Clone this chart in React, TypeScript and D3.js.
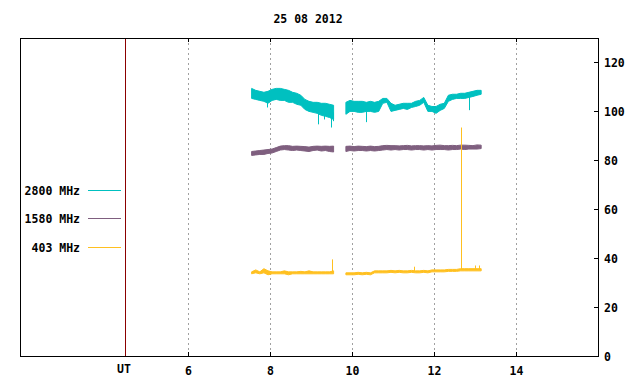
import React, { useRef, useEffect } from 'react';
import * as d3 from 'd3';

// time stamps (UT hours) of the two observing segments
const seg1T = [7.55, 7.65, 7.75, 7.85, 7.95, 8.05, 8.15, 8.25, 8.35, 8.45, 8.55, 8.65, 8.75, 8.85, 8.95, 9.05, 9.15, 9.25, 9.35, 9.45, 9.55];
const seg2T = [9.85, 9.95, 10.05, 10.15, 10.25, 10.35, 10.45, 10.55, 10.65, 10.75, 10.85, 10.95, 11.05, 11.15, 11.25, 11.35, 11.45,
  11.55, 11.65, 11.75, 11.85, 11.95, 12.05, 12.15, 12.25, 12.35, 12.45, 12.55, 12.65, 12.75, 12.85, 12.95, 13.05, 13.15];

// 2800 MHz (upper / lower envelope of the noisy trace)
const f2800Hi1 = [109.4, 108.6, 108.2, 107.8, 108.2, 109, 109.4, 109.4, 109, 108.6, 107.8, 107.4, 106.6, 104.9, 104.1, 103.7, 103.7, 103.3, 103.3, 102.9, 102.5];
const f2800Lo1 = [105.3, 104.9, 104.5, 104.1, 103.3, 104.5, 104.9, 104.5, 104.5, 103.7, 103.7, 102.9, 102.5, 100.8, 100, 99.6, 99.2, 98.4, 98, 97.5, 96.7];
const f2800Hi2 = [103.7, 104.5, 104.1, 104.1, 104.1, 103.7, 104.1, 103.7, 104.1, 105.3, 105.3, 103.3, 102.5, 102.9, 103.3, 103.3, 103.3,
  104.1, 104.5, 105.7, 102.5, 102, 102, 102.9, 103.3, 106.6, 107, 107, 107.4, 107.4, 107.8, 108.2, 108.6, 108.6];
const f2800Lo2 = [98.8, 100, 100, 99.6, 99.6, 100, 100, 99.6, 100, 103.3, 103.7, 100, 100.4, 100.8, 101.2, 100.8, 101.6,
  102, 102.5, 103.7, 100, 100, 99.2, 100.4, 101.2, 104.1, 104.9, 105.3, 105.3, 105.3, 105.7, 106.1, 106.6, 107];
const f2800SpikeT = [7.93, 9.18, 9.32, 9.48, 9.53, 10.34, 12.85];
const f2800SpikeV = [101.6, 94.7, 96.7, 93.4, 96, 95.6, 100.5];

// 1580 MHz
const f1580Hi1 = [83.6, 83.8, 84, 84.2, 84.4, 84.6, 85.2, 85.8, 86, 86, 85.7, 85.8, 85.7, 85.6, 85.4, 85.7, 85.8, 85.7, 85.8, 85.7, 85.8];
const f1580Lo1 = [82, 82.2, 82.4, 82.4, 82.8, 83, 83.6, 84.2, 84.4, 84.2, 84, 84.2, 84, 83.8, 83.6, 84, 84.2, 83.8, 84, 83.6, 83.4];
const f1580Hi2 = [85.7, 85.8, 85.6, 85.8, 85.7, 85.6, 85.8, 85.6, 85.7, 86, 86.1, 86, 86, 85.9, 86, 86.1, 85.9,
  86, 86, 85.9, 86, 85.9, 86.1, 86.2, 86, 86, 86.1, 86, 86.2, 86.2, 86.1, 86, 86.3, 86.2];
const f1580Lo2 = [83.6, 84, 83.8, 84, 84, 83.8, 84, 83.8, 84, 84.2, 84.4, 84.2, 84.4, 84.2, 84.4, 84.4, 84.2,
  84.4, 84.4, 84.2, 84.4, 84.2, 84.4, 84.4, 84.4, 84.2, 84.4, 84.4, 84.6, 84.4, 84.6, 84.6, 84.6, 84.8];

// 403 MHz
const f403Hi1 = [34.4, 35.2, 34.4, 35.7, 34.8, 34.4, 34.4, 34.4, 34.8, 34.4, 34.4, 34.4, 34.6, 34.4, 34.8, 34.4, 34.4, 34.4, 34.4, 34.4, 34.8];
const f403Lo1 = [33.6, 34, 33.6, 34, 33.2, 33.6, 33.6, 33.6, 33.6, 33.2, 33.6, 33.6, 33.6, 33.6, 33.6, 33.6, 33.6, 33.6, 33.6, 33.6, 33.6];
const f403Hi2 = [34, 34, 34, 34.2, 34, 34.2, 34, 34.8, 34.8, 34.8, 34.8, 35, 34.8, 35, 34.8, 34.8, 35,
  34.8, 34.8, 35, 34.8, 35.2, 35.2, 35.2, 35.2, 35.4, 35.4, 35.4, 35.7, 35.7, 35.7, 35.7, 35.7, 35.7];
const f403Lo2 = [33.2, 33.2, 33.2, 33.4, 33.2, 33.4, 33.2, 34, 34, 34, 34, 34.2, 34, 34.2, 34, 34, 34.2,
  34, 34, 34.2, 34, 34.4, 34.4, 34.4, 34.4, 34.6, 34.6, 34.6, 34.8, 34.8, 34.8, 34.8, 34.8, 34.8];
const f403SpikeT = [9.52, 11.5, 12.66, 13.0, 13.1];
const f403SpikeV = [39.5, 36.5, 93.4, 37, 37];

const legendNames = ['2800 MHz', '1580 MHz', '403 MHz'];
const legendLevels = [68, 56.5, 44.5];
const colors = ['#00c0c0', '#7f5f7f', '#ffc020'];
const xTicks = [6, 8, 10, 12, 14];
const yTicks = [0, 20, 40, 60, 80, 100, 120];
const utMark = 4.46;
const title = '25 08 2012';

const font = '"DejaVu Sans Mono", monospace';

const App: React.FC = () => {
  const svgRef = useRef<SVGSVGElement | null>(null);

  useEffect(() => {
    const svg = d3.select(svgRef.current!);
    svg.selectAll('*').remove();

    const left = 20, right = 598, top = 38, bottom = 356;
    const x = d3.scaleLinear().domain([1.9, 16]).range([left, right]);
    const y = d3.scaleLinear().domain([0, 130]).range([bottom, top]);

    svg.append('text')
      .attr('x', 308).attr('y', 23)
      .attr('text-anchor', 'middle')
      .attr('font-family', font).attr('font-size', 11.5).attr('font-weight', 'bold')
      .text(title);

    // dotted grid
    svg.append('g').selectAll('line').data(xTicks).enter().append('line')
      .attr('x1', (d) => Math.round(x(d)) + 0.5).attr('x2', (d) => Math.round(x(d)) + 0.5)
      .attr('y1', top).attr('y2', bottom)
      .attr('stroke', '#a0a0a0').attr('stroke-dasharray', '2,3');

    // UT line
    svg.append('line')
      .attr('x1', Math.round(x(utMark)) + 0.5).attr('x2', Math.round(x(utMark)) + 0.5)
      .attr('y1', top).attr('y2', bottom)
      .attr('stroke', '#8b0000');

    const series = [
      { color: colors[0], segs: [[seg1T, f2800Hi1, f2800Lo1], [seg2T, f2800Hi2, f2800Lo2]], spT: f2800SpikeT, spV: f2800SpikeV },
      { color: colors[1], segs: [[seg1T, f1580Hi1, f1580Lo1], [seg2T, f1580Hi2, f1580Lo2]], spT: [] as number[], spV: [] as number[] },
      { color: colors[2], segs: [[seg1T, f403Hi1, f403Lo1], [seg2T, f403Hi2, f403Lo2]], spT: f403SpikeT, spV: f403SpikeV },
    ];

    const area = d3.area<[number, number, number]>()
      .x((d) => x(d[0]))
      .y0((d) => y(d[2]))
      .y1((d) => y(d[1]));

    series.forEach((s) => {
      const g = svg.append('g');
      const all: [number, number, number][] = [];
      s.segs.forEach(([t, hi, lo]) => {
        const pts = t.map((tt, i) => [tt, hi[i], lo[i]] as [number, number, number]);
        all.push(...pts);
        g.append('path')
          .attr('d', area(pts))
          .attr('fill', s.color)
          .attr('stroke', s.color)
          .attr('stroke-width', 1);
      });
      s.spT.forEach((t, i) => {
        const near = all.reduce((a, b) => (Math.abs(b[0] - t) < Math.abs(a[0] - t) ? b : a));
        const base = (near[1] + near[2]) / 2;
        const px = Math.round(x(t)) + 0.5;
        g.append('line')
          .attr('x1', px).attr('x2', px)
          .attr('y1', y(base)).attr('y2', y(s.spV[i]))
          .attr('stroke', s.color).attr('stroke-width', 1);
      });
    });

    // frame
    svg.append('rect')
      .attr('x', left + 0.5).attr('y', top + 0.5)
      .attr('width', right - left).attr('height', bottom - top)
      .attr('fill', 'none').attr('stroke', '#000');

    // x ticks (inner, top and bottom)
    const xt = svg.append('g');
    xTicks.forEach((d) => {
      const px = Math.round(x(d)) + 0.5;
      xt.append('line').attr('x1', px).attr('x2', px).attr('y1', bottom).attr('y2', bottom - 4).attr('stroke', '#000');
      xt.append('line').attr('x1', px).attr('x2', px).attr('y1', top).attr('y2', top + 4).attr('stroke', '#000');
      xt.append('text')
        .attr('x', px).attr('y', 375)
        .attr('text-anchor', 'middle')
        .attr('font-family', font).attr('font-size', 11.5).attr('font-weight', 'bold')
        .text(String(d));
    });
    svg.append('text')
      .attr('x', Math.round(x(utMark)) - 1).attr('y', 373)
      .attr('text-anchor', 'middle')
      .attr('font-family', font).attr('font-size', 11.5).attr('font-weight', 'bold')
      .text('UT');

    // right y axis
    const yt = svg.append('g');
    yTicks.forEach((d) => {
      const py = Math.round(y(d)) + 0.5;
      yt.append('line').attr('x1', right).attr('x2', right - 4).attr('y1', py).attr('y2', py).attr('stroke', '#000');
      yt.append('text')
        .attr('x', 604).attr('y', py + 4)
        .attr('font-family', font).attr('font-size', 11.5).attr('font-weight', 'bold')
        .text(String(d));
    });

    // legend
    legendNames.forEach((name, i) => {
      const py = Math.round(y(legendLevels[i])) + 0.5;
      svg.append('line')
        .attr('x1', 88).attr('x2', 121).attr('y1', py).attr('y2', py)
        .attr('stroke', colors[i]);
      svg.append('text')
        .attr('x', 80).attr('y', py + 4)
        .attr('text-anchor', 'end')
        .attr('font-family', font).attr('font-size', 11.5).attr('font-weight', 'bold')
        .text(name);
    });
  }, []);

  return (
    <svg ref={svgRef} width={640} height={384}
      style={{ position: 'absolute', left: 0, top: 0, background: '#fff' }} />
  );
};

export default App;
